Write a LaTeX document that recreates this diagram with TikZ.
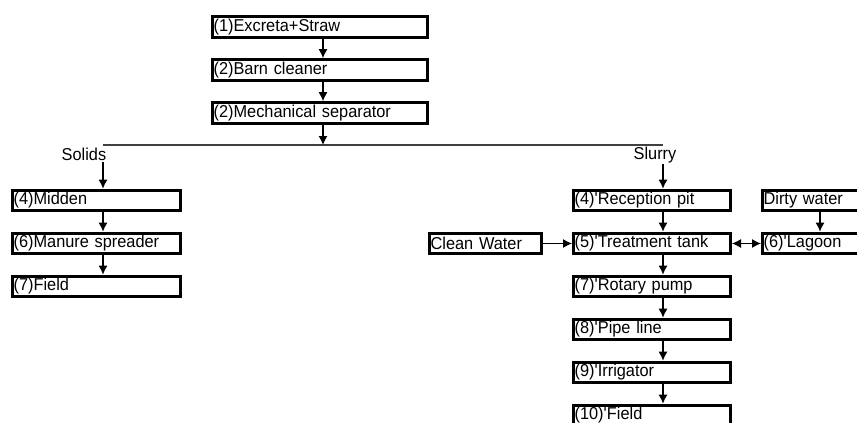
\documentclass[tikz,border=0pt]{standalone}
\usepackage{fontspec}
\setmainfont{Liberation Sans}
\newfontfamily\condsans[FakeStretch=0.95]{Liberation Sans}
\usetikzlibrary{arrows.meta}
\begin{document}
\begin{tikzpicture}[x=1pt,y=-1pt,
  bx/.style={draw=black, line width=3.2pt, inner xsep=1pt, inner ysep=0pt,
    minimum height=20.5pt, text width=#1, align=left,
    font=\condsans\fontsize{17.2}{19}\selectfont, anchor=center},
  arr/.style={-{Latex[length=9pt,width=9pt]}, line width=1.2pt},
  darr/.style={{Latex[length=9pt,width=9pt]}-{Latex[length=9pt,width=9pt]}, line width=1.2pt},
  lbl/.style={font=\condsans\fontsize{17.2}{19}\selectfont, inner sep=1pt},
  rule/.style={draw=black!75, line width=1.2pt}]
\useasboundingbox (0,0) rectangle (857,423);
\clip (0,0) rectangle (857,423);
% coordinates for arrow columns
\coordinate (xT) at (323,0);
\coordinate (xL) at (103,0);
\coordinate (xR) at (663,0);
\coordinate (xD) at (820,0);
% top column
\node[bx=212.8] (t1) at (320,27) {(1)Excreta+Straw};
\node[bx=212.8] (t2) at (320,70) {(2)Barn cleaner};
\node[bx=212.8] (t3) at (320,113) {(2)Mechanical separator};
% split line
\coordinate (hl) at (103,145);
\coordinate (hr) at (663,145);
\draw[rule] (hl) -- (hr);
\node[lbl] (so) at (84,154) {Solids};
\node[lbl] (sl) at (655,155) {Slurry};
% left column
\node[bx=165.8] (l1) at (96.5,200.5) {(4)Midden};
\node[bx=165.8] (l2) at (96.5,243.5) {(6)Manure spreader};
\node[bx=165.8] (l3) at (96.5,286.5) {(7)Field};
% right column
\node[bx=154.8] (r1) at (652,200.5) {(4)\textquotesingle Reception pit};
\node[bx=154.8] (r2) at (652,243.5) {(5)\textquotesingle Treatment tank};
\node[bx=154.8] (r3) at (652,286.5) {(7)\textquotesingle Rotary pump};
\node[bx=154.8] (r4) at (652,329.5) {(8)\textquotesingle Pipe line};
\node[bx=154.8] (r5) at (652,372.5) {(9)\textquotesingle Irrigator};
\node[bx=154.8] (r6) at (652,415.5) {(10)\textquotesingle Field};
% side boxes
\node[bx=109.8] (cw) at (485.5,243.5) {Clean Water};
\node[bx=134.8] (dw) at (831,200.5) {Dirty water};
\node[bx=134.8] (lg) at (831,243.5) {(6)\textquotesingle Lagoon};
% arrows top
\draw[arr] (t1.south -| xT) -- (t2.north -| xT);
\draw[arr] (t2.south -| xT) -- (t3.north -| xT);
\draw[arr] (t3.south -| xT) -- (xT |- hl);
% left arrows
\draw[arr] (so.south -| xL) -- (l1.north -| xL);
\draw[arr] (l1.south -| xL) -- (l2.north -| xL);
\draw[arr] (l2.south -| xL) -- (l3.north -| xL);
% right arrows
\draw[arr] (sl.south -| xR) -- (r1.north -| xR);
\draw[arr] (r1.south -| xR) -- (r2.north -| xR);
\draw[arr] (r2.south -| xR) -- (r3.north -| xR);
\draw[arr] (r3.south -| xR) -- (r4.north -| xR);
\draw[arr] (r4.south -| xR) -- (r5.north -| xR);
\draw[arr] (r5.south -| xR) -- (r6.north -| xR);
% side arrows
\draw[arr] (cw.east) -- (r2.west);
\draw[darr] (r2.east) -- (lg.west);
\draw[arr] (dw.south -| xD) -- (lg.north -| xD);
\end{tikzpicture}
\end{document}
